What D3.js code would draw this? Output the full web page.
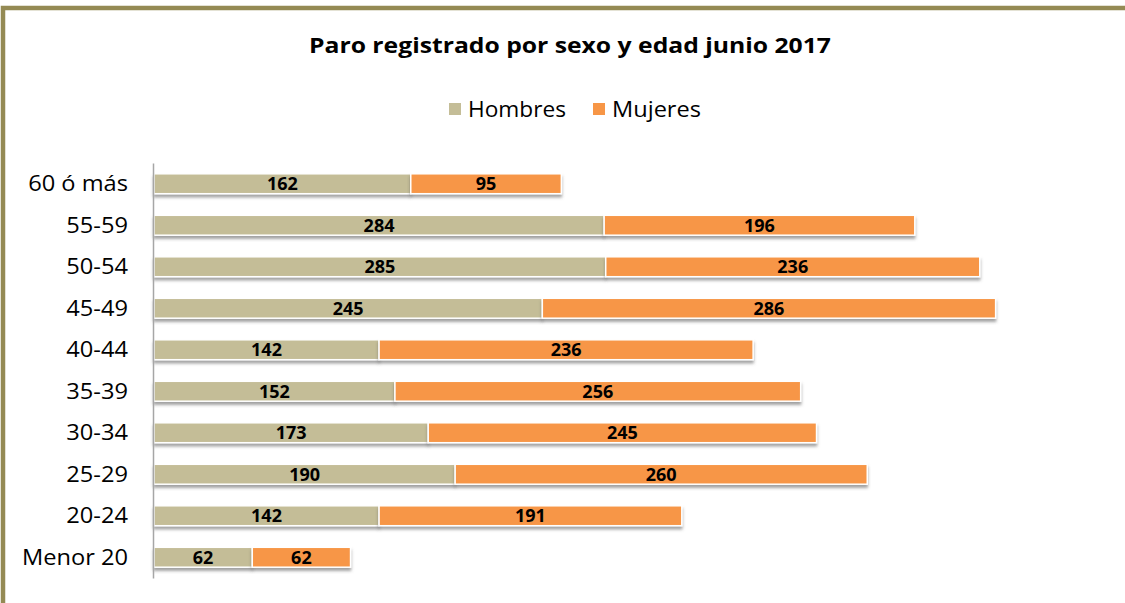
<!DOCTYPE html>
<html><head><meta charset="utf-8">
<script src="https://cdn.jsdelivr.net/npm/d3@7"></script>
<style>
html,body{margin:0;padding:0;background:#fff;}
svg{display:block;}
</style></head>
<body>
<script>
const categories = ["60 ó más","55-59","50-54","45-49","40-44","35-39","30-34","25-29","20-24","Menor 20"];
const hombres = [162,284,285,245,142,152,173,190,142,62];
const mujeres = [95,196,236,286,236,256,245,260,191,62];
const seriesNames = ["Hombres","Mujeres"];
const seriesColors = ["#c4bd97","#f79646"];
const titleText = "Paro registrado por sexo y edad junio 2017";

const W = 1125, H = 603;
const svg = d3.select("body").append("svg").attr("width", W).attr("height", H);
const font = "'Open Sans', sans-serif";

const defs = svg.append("defs");
const f = defs.append("filter").attr("id","sh").attr("x","-5%").attr("y","-50%").attr("width","110%").attr("height","250%");
f.append("feDropShadow").attr("dx",0).attr("dy",3).attr("stdDeviation",1.8).attr("flood-color","#555").attr("flood-opacity",0.55);

// frame
svg.append("rect").attr("x",0).attr("y",0).attr("width",W).attr("height",H).attr("fill","#fff");
svg.append("rect").attr("x",3).attr("y",8).attr("width",W+10).attr("height",H+10)
  .attr("fill","none").attr("stroke","#948a54").attr("stroke-width",4.5);

// title
svg.append("text").attr("x",570).attr("y",53).attr("text-anchor","middle")
  .attr("font-family",font).attr("font-weight","bold").attr("font-size",21.5).attr("fill","#000")
  .attr("textLength",522).attr("lengthAdjust","spacingAndGlyphs")
  .text(titleText);

// legend
const leg = svg.append("g");
const legX = [449, 593];
const legW = [98, 89];
seriesNames.forEach((n,i)=>{
  leg.append("rect").attr("x",legX[i]).attr("y",103).attr("width",12).attr("height",12).attr("fill",seriesColors[i]);
  leg.append("text").attr("x",legX[i]+19).attr("y",117).attr("font-family",font).attr("font-size",21).attr("fill","#000")
    .attr("textLength",legW[i]).attr("lengthAdjust","spacingAndGlyphs").text(n);
});

const x = d3.scaleLinear().domain([0,560]).range([154, 154+560*1.585]);
const y = d3.scaleBand().domain(categories).range([163,578]).paddingInner(0.52).paddingOuter(0.26);

const data = categories.map((c,i)=>({c, h:hombres[i], m:mujeres[i]}));
const stack = d3.stack().keys(["h","m"])(data);

const g = svg.append("g");
stack.forEach((layer,li)=>{
  layer.forEach(d=>{
    g.append("rect")
      .attr("x", x(d[0])).attr("y", y(d.data.c))
      .attr("width", x(d[1])-x(d[0])).attr("height", y.bandwidth())
      .attr("fill", seriesColors[li]).attr("stroke","#fff").attr("stroke-width",1.5)
      .attr("filter","url(#sh)");
  });
});
stack.forEach((layer,li)=>{
  layer.forEach(d=>{
    g.append("text")
      .attr("x",(x(d[0])+x(d[1]))/2).attr("y", y(d.data.c)+y.bandwidth()/2+6.5)
      .attr("text-anchor","middle").attr("font-family",font).attr("font-weight","bold")
      .attr("font-size",18).attr("fill","#000").text(d[1]-d[0]);
  });
});

// axis
const ax = svg.append("g").attr("transform","translate(153,0)").call(d3.axisLeft(y).tickSize(0).tickPadding(0));
ax.select(".domain").attr("stroke","#a6a6a6").attr("stroke-width",1.5);
ax.selectAll(".tick text").attr("font-family",font).attr("font-size",21.5).attr("fill","#000")
  .attr("x",0).attr("dy","0.36em").attr("transform","translate(-25,0) scale(1.1,1)");
</script>
</body></html>
